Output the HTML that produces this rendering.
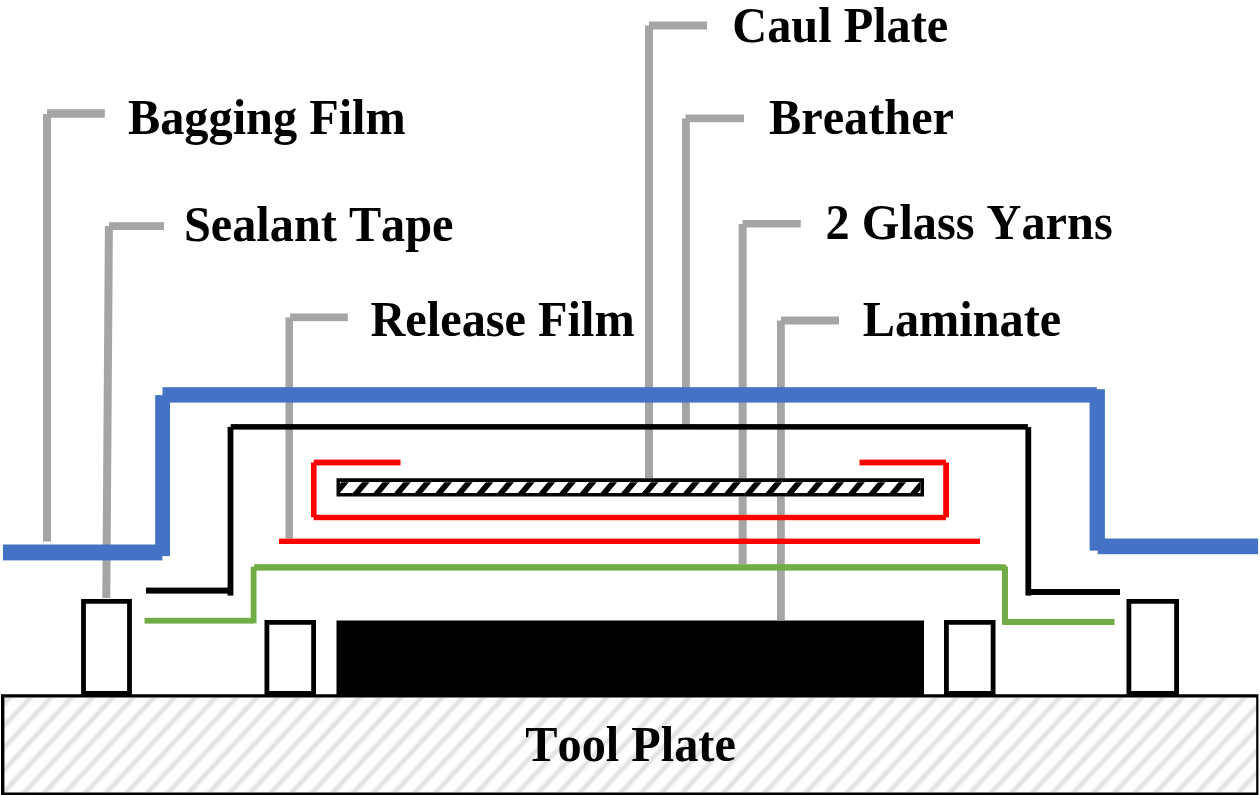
<!DOCTYPE html>
<html><head><meta charset="utf-8"><style>
html,body{margin:0;padding:0;background:#fff;width:1260px;height:795px;overflow:hidden}
svg{display:block}
text{font-family:"Liberation Serif",serif;font-weight:bold;font-kerning:none}
</style></head><body>
<svg width="1260" height="795" viewBox="0 0 1260 795">
<defs><filter id="bl" x="-1%" y="-5%" width="102%" height="110%"><feGaussianBlur stdDeviation="0.9"/></filter><clipPath id="tp"><rect x="4.3" y="697.6" width="1252" height="95"/></clipPath><clipPath id="cp"><rect x="340" y="482.25" width="580.5" height="10.75"/></clipPath></defs>
<g clip-path="url(#tp)"><path d="M-81.06 795L16.85 690M-60.48 795L37.43 690M-39.90 795L58.01 690M-19.32 795L78.59 690M1.26 795L99.17 690M21.84 795L119.75 690M42.42 795L140.33 690M63.00 795L160.91 690M83.58 795L181.49 690M104.16 795L202.07 690M124.74 795L222.65 690M145.32 795L243.23 690M165.90 795L263.81 690M186.48 795L284.39 690M207.06 795L304.97 690M227.64 795L325.55 690M248.22 795L346.13 690M268.80 795L366.71 690M289.38 795L387.29 690M309.96 795L407.87 690M330.54 795L428.45 690M351.12 795L449.03 690M371.70 795L469.61 690M392.28 795L490.19 690M412.86 795L510.77 690M433.44 795L531.35 690M454.02 795L551.93 690M474.60 795L572.51 690M495.18 795L593.09 690M515.76 795L613.67 690M536.34 795L634.25 690M556.92 795L654.83 690M577.50 795L675.41 690M598.08 795L695.99 690M618.66 795L716.57 690M639.24 795L737.15 690M659.82 795L757.73 690M680.40 795L778.31 690M700.98 795L798.89 690M721.56 795L819.47 690M742.14 795L840.05 690M762.72 795L860.63 690M783.30 795L881.21 690M803.88 795L901.79 690M824.46 795L922.37 690M845.04 795L942.95 690M865.62 795L963.53 690M886.20 795L984.11 690M906.78 795L1004.69 690M927.36 795L1025.27 690M947.94 795L1045.85 690M968.52 795L1066.43 690M989.10 795L1087.01 690M1009.68 795L1107.59 690M1030.26 795L1128.17 690M1050.84 795L1148.75 690M1071.42 795L1169.33 690M1092.00 795L1189.91 690M1112.58 795L1210.49 690M1133.16 795L1231.07 690M1153.74 795L1251.65 690M1174.32 795L1272.23 690M1194.90 795L1292.81 690M1215.48 795L1313.39 690M1236.06 795L1333.97 690M1256.64 795L1354.55 690" stroke="#e0e0e0" stroke-width="4.4" fill="none" filter="url(#bl)"/></g>
<path d="M1 694.2H1258.4V795H1ZM4.4 697.6V792.6H1256.2V697.6Z" fill="#000" fill-rule="evenodd"/>
<path d="M81.1 599H131.9V695.9H81.1Z M85.89999999999999 603.8V691.1H127.10000000000001V603.8Z" fill="#000" fill-rule="evenodd"/>
<path d="M264.5 620H316V695.9H264.5Z M269.3 624.8V691.1H311.2V624.8Z" fill="#000" fill-rule="evenodd"/>
<path d="M944 620H995.5V695.9H944Z M948.8 624.8V691.1H990.7V624.8Z" fill="#000" fill-rule="evenodd"/>
<path d="M1126.5 599H1179V695.9H1126.5Z M1131.3 603.8V691.1H1174.2V603.8Z" fill="#000" fill-rule="evenodd"/>
<rect x="336.5" y="620.5" width="587.5" height="74.5" fill="#000"/>
<rect x="43" y="114" width="8" height="427.5" fill="#a5a5a5"/>
<rect x="47" y="109.2" width="57.8" height="8.6" fill="#a5a5a5"/>
<path d="M104.9 226L112.9 226L110.3 598L102.3 598Z" fill="#a5a5a5"/>
<rect x="109" y="222.2" width="55" height="7.8" fill="#a5a5a5"/>
<rect x="285.5" y="317.5" width="7.5" height="221.0" fill="#a5a5a5"/>
<rect x="290" y="313.5" width="57.8" height="7.7" fill="#a5a5a5"/>
<rect x="645" y="25.5" width="8" height="453.0" fill="#a5a5a5"/>
<rect x="649" y="21.5" width="58" height="8.0" fill="#a5a5a5"/>
<rect x="682" y="118.5" width="7.8" height="306.0" fill="#a5a5a5"/>
<rect x="685.5" y="114.5" width="58.5" height="7.7" fill="#a5a5a5"/>
<rect x="738.6" y="224" width="8.1" height="340.5" fill="#a5a5a5"/>
<rect x="742.6" y="220" width="58.2" height="7.5" fill="#a5a5a5"/>
<rect x="777" y="320.5" width="7.8" height="300.0" fill="#a5a5a5"/>
<rect x="781" y="316.5" width="58" height="8.0" fill="#a5a5a5"/>
<rect x="3" y="544.5" width="159.4" height="15.9" fill="#4472c4"/>
<rect x="155.2" y="395.1" width="14.8" height="161.0" fill="#4472c4"/>
<rect x="162.5" y="387.2" width="934.3" height="15.4" fill="#4472c4"/>
<rect x="1089.6" y="389.2" width="15.3" height="161.4" fill="#4472c4"/>
<rect x="1097.7" y="538.5" width="160.4" height="15.7" fill="#4472c4"/>
<rect x="146" y="587.6" width="87" height="6.0" fill="#000"/>
<rect x="227.6" y="426.9" width="5.8" height="168.7" fill="#000"/>
<rect x="230.7" y="424.1" width="797.2" height="5.5" fill="#000"/>
<rect x="1025.4" y="427.1" width="5.8" height="168.5" fill="#000"/>
<rect x="1028" y="589" width="92" height="6" fill="#000"/>
<rect x="144.5" y="617.8" width="109.1" height="5.8" fill="#70ad47"/>
<rect x="250.7" y="566.7" width="5.8" height="56.6" fill="#70ad47"/>
<rect x="254.1" y="564.2" width="750.9" height="6.4" fill="#70ad47"/>
<path d="M1005 564.2L1008 567.2V570.6H1005Z" fill="#70ad47"/>
<rect x="1002" y="567.4" width="6" height="57.4" fill="#70ad47"/>
<rect x="1005" y="619" width="109.5" height="6" fill="#70ad47"/>
<rect x="313.7" y="459.6" width="86.8" height="5.8" fill="#ff0000"/>
<rect x="311" y="462.5" width="5.6" height="54.9" fill="#ff0000"/>
<rect x="313.7" y="514.8" width="632.3" height="5.4" fill="#ff0000"/>
<rect x="943.2" y="462.5" width="5.8" height="54.9" fill="#ff0000"/>
<rect x="859.5" y="459.6" width="86.5" height="5.8" fill="#ff0000"/>
<rect x="279" y="538.6" width="701" height="5.4" fill="#ff0000"/>
<rect x="336.5" y="478.25" width="587.5" height="18.25" fill="#fff"/>
<g clip-path="url(#cp)"><path d="M311.22 493.5L318.72 493.5L328.80 481.5L321.30 481.5ZM331.86 493.5L339.36 493.5L349.44 481.5L341.94 481.5ZM352.50 493.5L360.00 493.5L370.08 481.5L362.58 481.5ZM373.14 493.5L380.64 493.5L390.72 481.5L383.22 481.5ZM393.78 493.5L401.28 493.5L411.36 481.5L403.86 481.5ZM414.42 493.5L421.92 493.5L432.00 481.5L424.50 481.5ZM435.06 493.5L442.56 493.5L452.64 481.5L445.14 481.5ZM455.70 493.5L463.20 493.5L473.28 481.5L465.78 481.5ZM476.34 493.5L483.84 493.5L493.92 481.5L486.42 481.5ZM496.98 493.5L504.48 493.5L514.56 481.5L507.06 481.5ZM517.62 493.5L525.12 493.5L535.20 481.5L527.70 481.5ZM538.26 493.5L545.76 493.5L555.84 481.5L548.34 481.5ZM558.90 493.5L566.40 493.5L576.48 481.5L568.98 481.5ZM579.54 493.5L587.04 493.5L597.12 481.5L589.62 481.5ZM600.18 493.5L607.68 493.5L617.76 481.5L610.26 481.5ZM620.82 493.5L628.32 493.5L638.40 481.5L630.90 481.5ZM641.46 493.5L648.96 493.5L659.04 481.5L651.54 481.5ZM662.10 493.5L669.60 493.5L679.68 481.5L672.18 481.5ZM682.74 493.5L690.24 493.5L700.32 481.5L692.82 481.5ZM703.38 493.5L710.88 493.5L720.96 481.5L713.46 481.5ZM724.02 493.5L731.52 493.5L741.60 481.5L734.10 481.5ZM744.66 493.5L752.16 493.5L762.24 481.5L754.74 481.5ZM765.30 493.5L772.80 493.5L782.88 481.5L775.38 481.5ZM785.94 493.5L793.44 493.5L803.52 481.5L796.02 481.5ZM806.58 493.5L814.08 493.5L824.16 481.5L816.66 481.5ZM827.22 493.5L834.72 493.5L844.80 481.5L837.30 481.5ZM847.86 493.5L855.36 493.5L865.44 481.5L857.94 481.5ZM868.50 493.5L876.00 493.5L886.08 481.5L878.58 481.5ZM889.14 493.5L896.64 493.5L906.72 481.5L899.22 481.5ZM909.78 493.5L917.28 493.5L927.36 481.5L919.86 481.5ZM930.42 493.5L937.92 493.5L948.00 481.5L940.50 481.5ZM951.06 493.5L958.56 493.5L968.64 481.5L961.14 481.5ZM971.70 493.5L979.20 493.5L989.28 481.5L981.78 481.5ZM992.34 493.5L999.84 493.5L1009.92 481.5L1002.42 481.5Z" fill="#000"/></g>
<path d="M336.5 478.25H924V496.5H336.5ZM340 482.1V493H920.5V482.1Z" fill="#000" fill-rule="evenodd"/>
<g font-family="Liberation Serif" font-weight="bold" font-size="48.3" fill="#000" style="font-kerning:none">
<text transform="translate(732.3 41.5) scale(1 1.04)">Caul Plate</text>
<text transform="translate(128 133.8) scale(1 1.04)">Bagging Film</text>
<text transform="translate(769 134) scale(1 1.04)">Breather</text>
<text transform="translate(183.9 241.3) scale(1 1.04)">Sealant Tape</text>
<text transform="translate(825.6 239) scale(1 1.04)">2 Glass Yarns</text>
<text transform="translate(370.5 336.1) scale(1 1.04)">Release Film</text>
<text transform="translate(862.7 336.1) scale(1 1.04)">Laminate</text>
<text transform="translate(525.3 761.4) scale(1 1.04)">Tool Plate</text>
</g>
</svg>
</body></html>
